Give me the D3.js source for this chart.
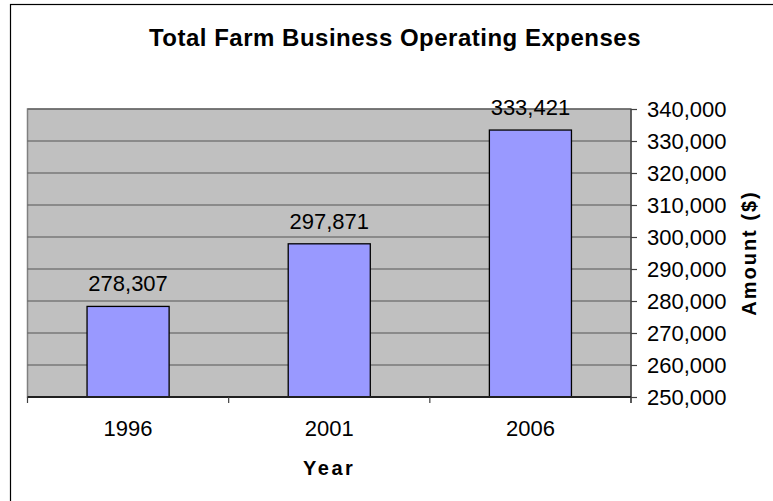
<!DOCTYPE html>
<html>
<head>
<meta charset="utf-8">
<script src="https://cdn.jsdelivr.net/npm/d3@7"></script>
<style>
  html, body { margin: 0; padding: 0; background: #ffffff; }
  svg { display: block; font-family: "Liberation Sans", Arial, sans-serif; }
</style>
</head>
<body>
<svg id="chart" width="773" height="501"></svg>
<script>
// Farm business operating expenses by census year
const years = ["1996", "2001", "2006"];
const expenses = [278307, 297871, 333421];
const yTicks = [250000, 260000, 270000, 280000, 290000, 300000, 310000, 320000, 330000, 340000];

const svg = d3.select("#chart");
const W = 773, H = 501;

// plot area bounds
const plotLeft = 27.5, plotRight = 631, plotTop = 109, plotBottom = 397;

// outer chart frame
svg.append("rect")
  .attr("x", 10.5).attr("y", 4.5)
  .attr("width", W + 20).attr("height", H + 20)
  .attr("fill", "#ffffff")
  .attr("stroke", "#000000").attr("stroke-width", 1.2);

const x = d3.scaleBand()
  .domain(years)
  .range([plotLeft, plotRight])
  .paddingInner(0.592)
  .paddingOuter(0.296);

const y = d3.scaleLinear()
  .domain([250000, 340000])
  .range([plotBottom, plotTop]);

// plot background
svg.append("rect")
  .attr("x", plotLeft).attr("y", plotTop)
  .attr("width", plotRight - plotLeft).attr("height", plotBottom - plotTop)
  .attr("fill", "#c0c0c0")
  .attr("stroke", "#808080").attr("stroke-width", 1.5);

// horizontal gridlines
svg.append("g")
  .selectAll("line")
  .data(yTicks.slice(1))
  .join("line")
  .attr("x1", plotLeft).attr("x2", plotRight)
  .attr("y1", d => y(d)).attr("y2", d => y(d))
  .attr("stroke", "#555555").attr("stroke-width", 1);

// bars
svg.append("g")
  .selectAll("rect")
  .data(years.map((yr, i) => ({ yr, v: expenses[i] })))
  .join("rect")
  .attr("x", d => x(d.yr))
  .attr("y", d => y(d.v))
  .attr("width", x.bandwidth())
  .attr("height", d => plotBottom - y(d.v))
  .attr("fill", "#9999ff")
  .attr("stroke", "#000000").attr("stroke-width", 1.3);

// value labels above bars
const fmt = d3.format(",");
svg.append("g")
  .selectAll("text")
  .data(years.map((yr, i) => ({ yr, v: expenses[i] })))
  .join("text")
  .attr("x", d => x(d.yr) + x.bandwidth() / 2)
  .attr("y", d => y(d.v) - 15)
  .attr("text-anchor", "middle")
  .attr("font-size", 22)
  .attr("fill", "#000")
  .text(d => fmt(d.v));

// right value axis
const yAxis = svg.append("g")
  .attr("transform", `translate(${plotRight},0)`)
  .call(d3.axisRight(y).tickValues(yTicks).tickSize(6).tickPadding(10).tickFormat(fmt));
yAxis.select(".domain").attr("stroke", "#404040").attr("stroke-width", 1.3)
  .attr("d", `M0,${plotTop}V${plotBottom + 6}`);
yAxis.selectAll(".tick line").attr("stroke", "#404040").attr("stroke-width", 1.2);
yAxis.selectAll(".tick text")
  .attr("font-size", 22)
  .attr("font-family", "'Liberation Sans', Arial, sans-serif")
  .attr("fill", "#000");

// bottom category axis with ticks on band boundaries
const xAxis = svg.append("g");
xAxis.append("line")
  .attr("x1", plotLeft).attr("x2", plotRight)
  .attr("y1", plotBottom).attr("y2", plotBottom)
  .attr("stroke", "#202020").attr("stroke-width", 1.8);
const step = x.step();
xAxis.selectAll("line.tk")
  .data(d3.range(years.length + 1))
  .join("line")
  .attr("class", "tk")
  .attr("x1", i => plotLeft + i * step).attr("x2", i => plotLeft + i * step)
  .attr("y1", plotBottom).attr("y2", plotBottom + 6)
  .attr("stroke", "#404040").attr("stroke-width", 1.2);
xAxis.selectAll("text")
  .data(years)
  .join("text")
  .attr("x", d => x(d) + x.bandwidth() / 2)
  .attr("y", 436)
  .attr("text-anchor", "middle")
  .attr("font-size", 22)
  .attr("fill", "#000")
  .text(d => d);

// titles
svg.append("text")
  .attr("x", 395).attr("y", 46)
  .attr("text-anchor", "middle")
  .attr("font-size", 24).attr("font-weight", "bold")
  .attr("letter-spacing", 0.5)
  .text("Total Farm Business Operating Expenses");

svg.append("text")
  .attr("x", (plotLeft + plotRight) / 2).attr("y", 475)
  .attr("text-anchor", "middle")
  .attr("font-size", 20).attr("font-weight", "bold")
  .attr("letter-spacing", 2.5)
  .text("Year");

svg.append("text")
  .attr("transform", `translate(756,${(plotTop + plotBottom) / 2}) rotate(-90)`)
  .attr("text-anchor", "middle")
  .attr("font-size", 20).attr("font-weight", "bold")
  .attr("letter-spacing", 2)
  .text("Amount ($)");
</script>
</body>
</html>
